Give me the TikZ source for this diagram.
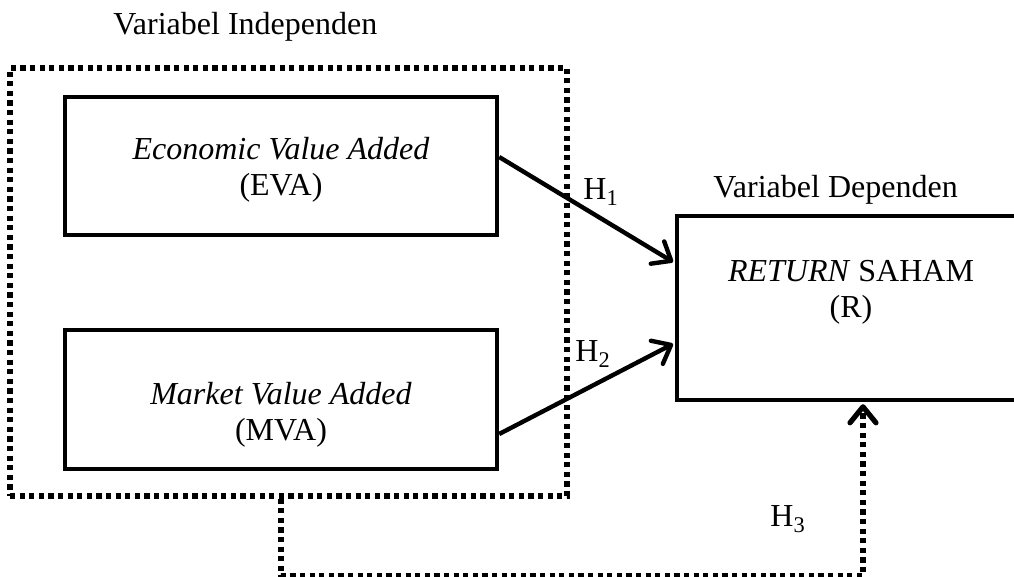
\documentclass[tikz,border=0pt]{standalone}
\usepackage{fontspec}
\setmainfont{Liberation Serif}
\usetikzlibrary{arrows.meta}
\tikzstyle{varbox} = [draw=black, line width=2.2pt, rectangle, inner sep=0pt]
\tikzstyle{groupbox} = [draw=black, line width=2.6pt, dash pattern=on 2.6pt off 2.2pt,
    rectangle, inner sep=0pt]
\tikzstyle{vartext} = [align=center, inner sep=0pt]
\tikzstyle{hyplink} = [line width=2.2pt, shorten >=1pt,
    -{Straight Barb[length=8pt, width=13pt, round]}]
\tikzstyle{hypdots} = [line width=2.6pt, dash pattern=on 2.6pt off 2.2pt, shorten >=1pt,
    -{Straight Barb[length=8pt, width=13pt, round]}]

\begin{document}
\begin{tikzpicture}[x=0.5pt, y=-0.5pt, every node/.style={font=\fontsize{16}{18}\selectfont}]
    \useasboundingbox (0,0) rectangle (1014,577);
    % boxes
    \node [groupbox, minimum width=278.5pt, minimum height=214pt] (indep) at (288.5,282) {};
    \node [varbox, minimum width=216pt, minimum height=69pt] (box1) at (281,166) {};
    \node [varbox, minimum width=216pt, minimum height=69.5pt] (box2) at (281,399.5) {};
    \node [varbox, minimum width=174pt, minimum height=92pt] (box3) at (851,308) {};
    % texts
    \node [vartext] (eva) at (281,169.4) {\textit{Economic Value Added}\\(EVA)};
    \node [vartext] (mva) at (281,414.4) {\textit{Market Value Added}\\(MVA)};
    \node [vartext] (ret) at (851,292.4) {\textit{RETURN} SAHAM\\(R)};
    \node [anchor=base west, inner sep=0pt] (indeptitle) at (113,35) {Variabel Independen};
    \node [anchor=base west, inner sep=0pt] (deptitle) at (713,198) {Variabel Dependen};
    % hypotheses
    \draw [hyplink] ([yshift=4.5pt]box1.east) -- ([yshift=22.5pt]box3.west);
    \draw [hyplink] ([yshift=-17.25pt]box2.east) -- ([yshift=-17.5pt]box3.west);
    \draw [hypdots] ([xshift=-3.75pt]indep.south) -- ++(0,77) -| ([xshift=6pt]box3.south);
    \node [anchor=base west, inner sep=0pt] (h1) at (583,200) {H\textsubscript{1}};
    \node [anchor=base west, inner sep=0pt] (h2) at (575,362) {H\textsubscript{2}};
    \node [anchor=base west, inner sep=0pt] (h3) at (770,527) {H\textsubscript{3}};
\end{tikzpicture}
\end{document}
